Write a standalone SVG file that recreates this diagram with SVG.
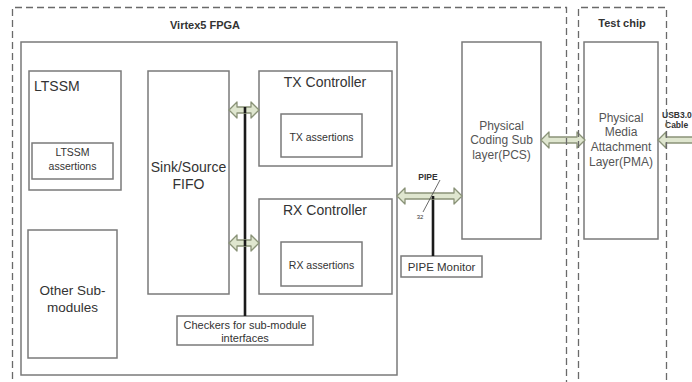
<svg xmlns="http://www.w3.org/2000/svg" width="692" height="382" viewBox="0 0 692 382">
  <style>
    .box { fill: #ffffff; stroke: #7a7a7a; stroke-width: 1.5; }
    .region { fill: none; stroke: #6a6a6a; stroke-width: 1.3; stroke-dasharray: 7 4; }
    .bus { fill: #dfe6cf; stroke: #8a9378; stroke-width: 1.3; stroke-linejoin: round; }
    .wire { stroke: #1a1a1a; stroke-width: 2.6; fill: none; }
    .t { font-family: "Liberation Sans", Arial, sans-serif; fill: #333333; text-anchor: middle; }
    .lt { fill: #555555; }
    .b { font-weight: bold; }
  </style>
  <rect width="692" height="382" fill="#ffffff"/>

  <!-- region captions -->
  <text class="t b" x="205" y="29" font-size="11">Virtex5 FPGA</text>
  <text class="t b" x="622" y="27" font-size="11">Test chip</text>

  <!-- top-level design block -->
  <g id="design">
    <rect class="box" x="21" y="42" width="376" height="333"/>
  </g>

  <g id="ltssm">
    <rect class="box" x="29" y="71" width="92" height="119"/>
    <text class="t" x="34" y="91" font-size="14" style="text-anchor:start">LTSSM</text>
  </g>
  <g id="ltssm-assertions">
    <rect class="box" x="32" y="143" width="81" height="36"/>
    <text class="t" x="72.5" y="156" font-size="10.5">LTSSM</text>
    <text class="t" x="72.5" y="170" font-size="10.5">assertions</text>
  </g>

  <g id="other-submodules">
    <rect class="box" x="28" y="230" width="89" height="128"/>
    <text class="t" x="72.5" y="295" font-size="13.5">Other Sub-</text>
    <text class="t" x="72.5" y="312" font-size="13.5">modules</text>
  </g>

  <g id="fifo">
    <rect class="box" x="148" y="71" width="81" height="223"/>
    <text class="t" x="188.5" y="172" font-size="14">Sink/Source</text>
    <text class="t" x="188.5" y="189" font-size="14">FIFO</text>
  </g>

  <g id="tx-controller">
    <rect class="box" x="259" y="71" width="133" height="95"/>
    <text class="t" x="325" y="87" font-size="14">TX Controller</text>
  </g>
  <g id="tx-assertions">
    <rect class="box" x="281" y="114" width="81" height="43"/>
    <text class="t" x="321.5" y="141" font-size="10.5">TX assertions</text>
  </g>

  <g id="rx-controller">
    <rect class="box" x="259" y="199" width="133" height="95"/>
    <text class="t" x="325" y="215" font-size="14">RX Controller</text>
  </g>
  <g id="rx-assertions">
    <rect class="box" x="281" y="242" width="81" height="44"/>
    <text class="t" x="321.5" y="269" font-size="10.5">RX assertions</text>
  </g>

  <g id="checkers">
    <rect class="box" x="177" y="316" width="136" height="29"/>
    <text class="t" x="245" y="329" font-size="11">Checkers for sub-module</text>
    <text class="t" x="245" y="342" font-size="11">interfaces</text>
  </g>

  <g id="pcs">
    <rect class="box" x="462" y="42" width="79" height="197"/>
    <text class="t lt" x="501.5" y="130" font-size="12">Physical</text>
    <text class="t lt" x="501.5" y="144" font-size="12">Coding Sub</text>
    <text class="t lt" x="501.5" y="159" font-size="12">layer(PCS)</text>
  </g>

  <g id="pma">
    <rect class="box" x="584" y="42" width="74" height="197"/>
    <text class="t lt" x="621" y="122" font-size="12">Physical</text>
    <text class="t lt" x="621" y="136" font-size="12">Media</text>
    <text class="t lt" x="621" y="151" font-size="12">Attachment</text>
    <text class="t lt" x="621" y="166" font-size="12">Layer(PMA)</text>
  </g>

  <g id="pipe-monitor">
    <rect class="box" x="401" y="256" width="81" height="21"/>
    <text class="t" x="441.5" y="271" font-size="11.5">PIPE Monitor</text>
  </g>

  <g id="connectors">
    <!-- checker tap on the internal bus -->
    <line class="wire" x1="245" y1="112" x2="245" y2="316"/>
    <!-- FIFO <-> TX controller -->
    <path class="bus" d="M229,110 L237,102 L237,107 L251,107 L251,102 L259,110 L251,118 L251,113 L237,113 L237,118 Z"/>
    <!-- FIFO <-> RX controller -->
    <path class="bus" d="M229,243 L237,235 L237,240 L251,240 L251,235 L259,243 L251,251 L251,246 L237,246 L237,251 Z"/>
    <line class="wire" x1="245" y1="107" x2="245" y2="113"/>
    <line class="wire" x1="245" y1="240" x2="245" y2="246"/>

    <!-- PIPE interface -->
    <line class="wire" x1="433" y1="196" x2="433" y2="256"/>
    <path class="bus" d="M397,196 L405,188 L405,193 L454,193 L454,188 L462,196 L454,204 L454,199 L405,199 L405,204 Z"/>
    <line class="wire" x1="433" y1="196" x2="433" y2="199"/>
    <line x1="440" y1="180" x2="423" y2="212" stroke="#444" stroke-width="0.8"/>
    <text class="t b" x="428" y="180" font-size="8.5">PIPE</text>
    <text class="t" x="420" y="219" font-size="6">32</text>

    <!-- PCS <-> PMA -->
    <path class="bus" d="M541,140 L549,132 L549,137 L577,137 L577,132 L585,140 L577,148 L577,143 L549,143 L549,148 Z"/>
    <!-- PMA <-> cable -->
    <path class="bus" d="M658,140 L666,132 L666,137 L700,137 L700,143 L666,143 L666,148 Z"/>
    <text class="t b" x="662" y="118" font-size="8.5" style="text-anchor:start">USB3.0</text>
    <text class="t b" x="665" y="128" font-size="8.5" style="text-anchor:start">Cable</text>
  </g>

  <!-- chip boundaries -->
  <g id="regions">
    <path class="region" d="M12.5,390 L12.5,7.5 L566.5,7.5 L566.5,390"/>
    <path class="region" d="M578.5,390 L578.5,7.5 L666.5,7.5 L666.5,390"/>
  </g>
</svg>
